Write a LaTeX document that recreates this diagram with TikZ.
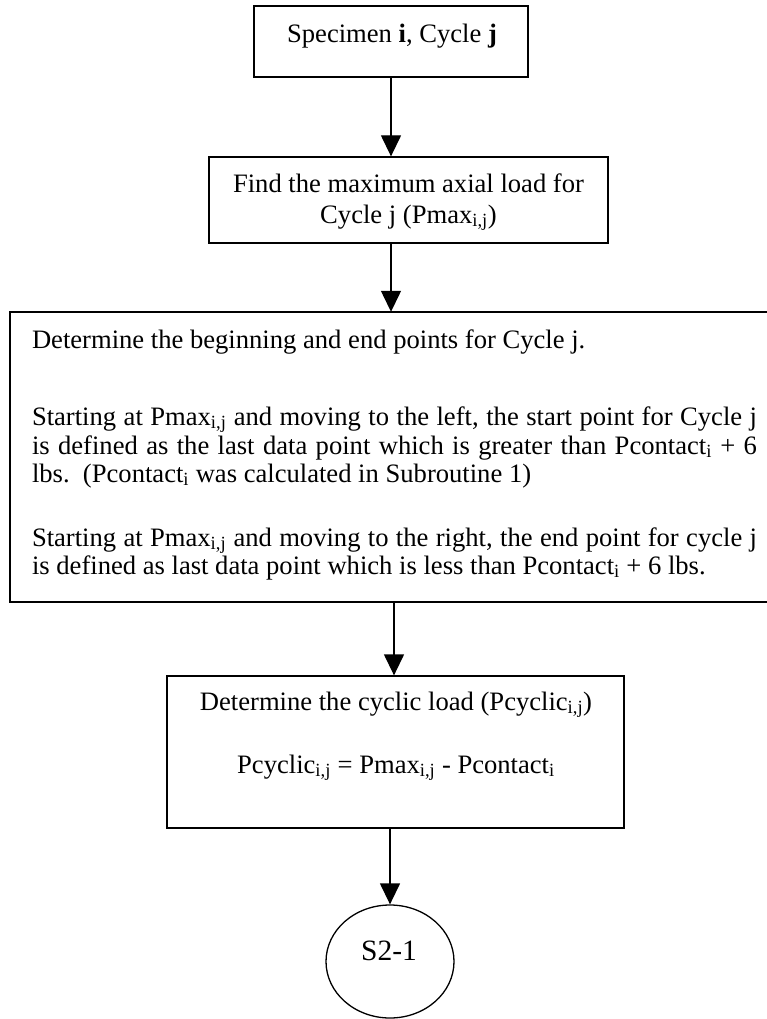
\documentclass[tikz,border=0pt]{standalone}
\usepackage{fontspec}
\setmainfont{Liberation Serif}
\usetikzlibrary{arrows.meta,shapes.geometric}
\begin{document}
\begin{tikzpicture}[x=1pt,y=-1pt,
  txt/.style={font=\fontsize{26.6}{28.5}\selectfont, inner sep=0pt, outer sep=0pt},
  frame/.style={draw, line width=1.3pt, rectangle, inner sep=0pt},
  arr/.style={line width=1.3pt, -{Triangle[length=21pt,width=20pt]}}]
\useasboundingbox (0,0) rectangle (767,1019);
% boxes
\node[frame,minimum width=274pt,minimum height=71pt] (box1) at (391,41.5) {};
\node[frame,minimum width=399pt,minimum height=86pt] (box2) at (408.5,200) {};
\node[rectangle,inner sep=0pt,minimum width=757pt,minimum height=290pt] (box3) at (388.5,457) {};
\draw[line width=1.6pt] (box3.north east) -- (box3.north west) -- (box3.south west) -- (box3.south east);
\node[frame,minimum width=457pt,minimum height=152pt] (box4) at (395.5,752) {};
\node[draw,line width=1.3pt,ellipse,inner sep=0pt,minimum width=128pt,minimum height=113pt] (circ) at (390,961.5) {};
% texts
\node[txt,anchor=base] (t1) at (392,43) {Specimen \textbf{i}, Cycle \textbf{j}};
\node[txt,anchor=base] (t2a) at (408.5,193) {Find the maximum axial load for};
\node[txt,anchor=base] (t2b) at (408.5,223) {Cycle j (Pmax\textsubscript{i,j})};
\node[txt,anchor=base west] (p1) at (32,348) {Determine the beginning and end points for Cycle j.};
\node[txt,anchor=base west] (p2a) at (32,425) {\makebox[725pt][s]{Starting at Pmax\textsubscript{i,j} and moving to the left, the start point for Cycle j}};
\node[txt,anchor=base west] (p2b) at (32,454) {\makebox[725pt][s]{is defined as the last data point which is greater than Pcontact\textsubscript{i} + 6}};
\node[txt,anchor=base west] (p2c) at (32,482) {lbs.\ \ (Pcontact\textsubscript{i} was calculated in Subroutine 1)};
\node[txt,anchor=base west] (p3a) at (32,546) {\makebox[725pt][s]{Starting at Pmax\textsubscript{i,j} and moving to the right, the end point for cycle j}};
\node[txt,anchor=base west] (p3b) at (32,574) {is defined as last data point which is less than Pcontact\textsubscript{i} + 6 lbs.};
\node[txt,anchor=base] (q1) at (396,710) {Determine the cyclic load (Pcyclic\textsubscript{i,j})};
\node[txt,anchor=base] (q2) at (396,773) {Pcyclic\textsubscript{i,j} = Pmax\textsubscript{i,j} - Pcontact\textsubscript{i}};
\node[txt,anchor=base,font=\fontsize{29.5}{32}\selectfont] (s) at (389,960) {S2-1};
% arrows
\draw[arr] (box1.south) -- (box1.south |- box2.north);
\draw[arr] (box1.south |- box2.south) -- (box1.south |- box3.north);
\draw[arr] ([xshift=-1.5pt]box4.north |- box3.south) -- ([xshift=-1.5pt]box4.north);
\draw[arr] (circ.north |- box4.south) -- (circ.north);
\end{tikzpicture}
\end{document}
